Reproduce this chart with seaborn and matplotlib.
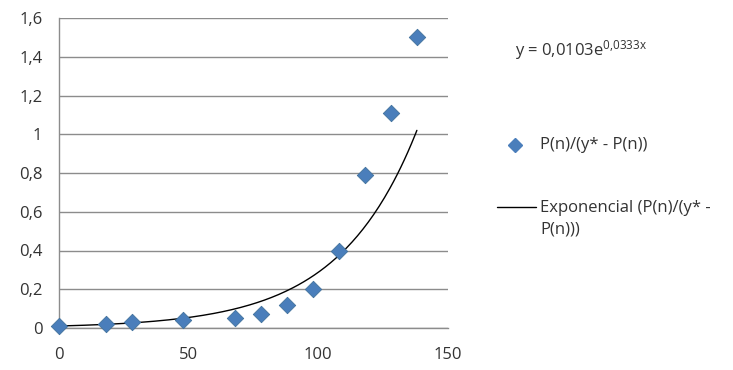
import numpy as np
import pandas as pd
import seaborn as sns
import matplotlib
matplotlib.use("Agg")
import matplotlib.pyplot as plt
from matplotlib.lines import Line2D

# ---- data ----
n_values = [0, 18, 28, 48, 68, 78, 88, 98, 108, 118, 128, 138]
ratio_values = [0.01, 0.02, 0.03, 0.04, 0.05, 0.07, 0.12, 0.20, 0.40, 0.79, 1.11, 1.50]
fit_a = 0.0103
fit_b = 0.0333
x_ticks = [0, 50, 100, 150]
y_ticks = [0, 0.2, 0.4, 0.6, 0.8, 1.0, 1.2, 1.4, 1.6]
y_tick_labels = ["0", "0,2", "0,4", "0,6", "0,8", "1", "1,2", "1,4", "1,6"]
series_label = "P(n)/(y* - P(n))"
trend_label = "Exponencial (P(n)/(y* -\nP(n)))"
equation_text = "y = 0,0103e$^{0{,}0333x}$"

sns.set_theme(style="white")
plt.rcParams["font.family"] = ["Open Sans", "DejaVu Sans"]
plt.rcParams["mathtext.default"] = "regular"

W, H = 733, 370
FS = 12

df = pd.DataFrame({"n": n_values, "ratio": ratio_values})
trend_x = np.linspace(min(n_values), max(n_values), 200)
trend_df = pd.DataFrame({"n": trend_x, "fit": fit_a * np.exp(fit_b * trend_x)})

fig = plt.figure(figsize=(W / 100, H / 100), dpi=100)
ax = fig.add_axes([59 / W, 42 / H, (448 - 59) / W, (328 - 18) / H])

grid_col = "#8c8c8c"
text_col = "#333333"
marker_col = "#4a7ebb"

sns.scatterplot(data=df, x="n", y="ratio", ax=ax, marker="D", s=70,
                color=marker_col, edgecolor="#41719c", linewidth=0.6, zorder=3,
                legend=False)
sns.lineplot(data=trend_df, x="n", y="fit", ax=ax, color="black", linewidth=1.0,
             zorder=2, legend=False)

ax.set_xlim(0, 150)
ax.set_ylim(0, 1.6)
ax.set_xticks(x_ticks)
ax.set_yticks(y_ticks)
ax.set_yticklabels(y_tick_labels)
ax.set_xlabel("")
ax.set_ylabel("")
ax.grid(axis="y", color=grid_col, linewidth=1.0)
ax.set_axisbelow(True)
for s in ["top", "right"]:
    ax.spines[s].set_visible(False)
for s in ["left", "bottom"]:
    ax.spines[s].set_color(grid_col)
    ax.spines[s].set_linewidth(1.0)
ax.tick_params(axis="both", which="both", direction="out", length=5, width=1.0,
               color=grid_col, labelcolor=text_col, labelsize=FS)
ax.tick_params(axis="y", pad=7)
ax.tick_params(axis="x", pad=9)
for coll in ax.collections:
    coll.set_clip_on(False)

# legend entries, placed like the reference
fig.add_artist(Line2D([515 / W], [1 - 145 / H], marker="D", linestyle="none",
                      color=marker_col, markersize=7, transform=fig.transFigure))
fig.text(540 / W, 1 - 145 / H, series_label, fontsize=FS, color=text_col,
         ha="left", va="center")
fig.add_artist(Line2D([497 / W, 536 / W], [1 - 207 / H, 1 - 207 / H],
                      color="black", linewidth=1.0, transform=fig.transFigure))
fig.text(540 / W, 1 - 219 / H, trend_label, fontsize=FS, color=text_col,
         ha="left", va="center", linespacing=1.45)

fig.text(515 / W, 1 - 50 / H, equation_text, fontsize=FS, color=text_col,
         ha="left", va="center")

fig.savefig("out.png", dpi=100)
